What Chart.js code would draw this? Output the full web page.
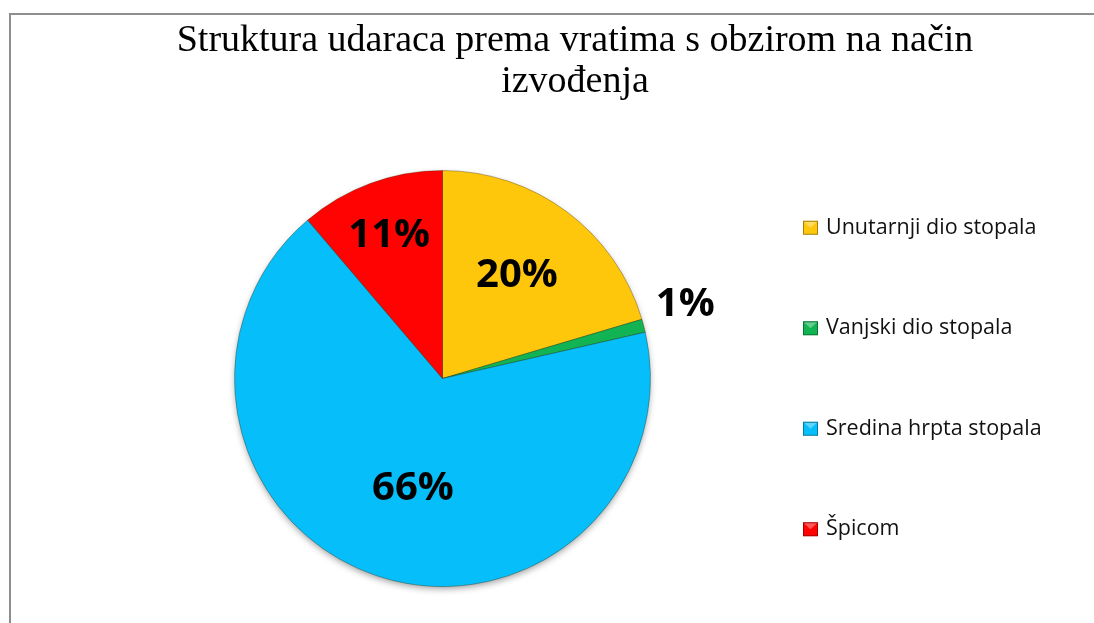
<!DOCTYPE html>
<html>
<head>
<meta charset="utf-8">
<title>Struktura udaraca</title>
<script src="https://cdn.jsdelivr.net/npm/chart.js"></script>
<style>
html, body { margin: 0; padding: 0; overflow: hidden; background: #fff; }
.frame {
    position: absolute; left: 9px; top: 13px;
    width: 2000px; height: 2000px;
    border-left: 2px solid #8e8e8e;
    border-top: 2px solid #8e8e8e;
}
.canvas_div {
    position: absolute; left: 0; top: 0;
    width: 1094px; height: 623px;
}
</style>
</head>
<body>
<div class="frame"></div>
<div class="canvas_div">
    <canvas id="myChart"></canvas>
</div>

<script>
// podaci
const titleLines = ['Struktura udaraca prema vratima s obzirom na način', 'izvođenja'];
const labels = ['Unutarnji dio stopala', 'Vanjski dio stopala', 'Sredina hrpta stopala', 'Špicom'];
const values = [20, 1, 66, 11];
const colors = ['#FFC70C', '#12B352', '#05BEFA', '#FF0303'];

// položaj natpisa (dio radijusa, pomak kuta u stupnjevima)
const labelRadius = [0.61, 1.22, 0.55, 0.735];
const labelShift = [-0.8, -2.2, -3.4, -0.2];

// sjena ispod kruga
const shadowPlugin = {
    id: 'pieShadow',
    beforeDatasetsDraw(chart) {
        const arc = chart.getDatasetMeta(0).data[0];
        if (!arc) return;
        const ctx = chart.ctx;
        ctx.save();
        ctx.shadowColor = 'rgba(0,0,0,0.4)';
        ctx.shadowBlur = 7;
        ctx.shadowOffsetY = 3;
        ctx.fillStyle = colors[2];
        ctx.beginPath();
        ctx.arc(arc.x, arc.y, arc.outerRadius - 1, 0, Math.PI * 2);
        ctx.fill();
        ctx.restore();
    }
};

// postoci na kriskama
const valueLabels = {
    id: 'valueLabels',
    afterDatasetsDraw(chart) {
        const ctx = chart.ctx;
        const meta = chart.getDatasetMeta(0);
        ctx.save();
        ctx.font = 'bold 40px "Open Sans"';
        ctx.fillStyle = '#000';
        ctx.textAlign = 'center';
        ctx.textBaseline = 'middle';
        meta.data.forEach(function(arc, i) {
            const mid = (arc.startAngle + arc.endAngle) / 2 + labelShift[i] * Math.PI / 180;
            const r = arc.outerRadius * labelRadius[i];
            ctx.fillText(values[i] + '%', arc.x + Math.cos(mid) * r, arc.y + Math.sin(mid) * r);
        });
        ctx.restore();
    }
};

// legenda desno kao zaseban okvir u rasporedu
const legendBox = {
    position: 'right',
    weight: 10,
    fullSize: false,
    options: { stackWeight: 1 },
    chart: null,
    left: 0, top: 0, right: 0, bottom: 0, width: 0, height: 0,
    isHorizontal() { return false; },
    update(maxWidth, maxHeight) {
        this.width = 265;
        this.height = maxHeight;
        return this.height;
    },
    draw() {
        const chart = this.chart;
        const ctx = chart.ctx;
        const area = chart.chartArea;
        const cy = (area.top + area.bottom) / 2;
        const step = 100.5;
        const x = this.left;
        ctx.save();
        ctx.font = '21.5px "Open Sans"';
        ctx.textBaseline = 'middle';
        ctx.textAlign = 'left';
        labels.forEach(function(text, i) {
            const y = cy + (i - (labels.length - 1) / 2) * step;
            const w = 15, h = 14;
            const top = y - h / 2;
            ctx.fillStyle = colors[i];
            ctx.fillRect(x, top, w, h);
            // svjetliji gornji trokut
            ctx.fillStyle = 'rgba(255,255,255,0.35)';
            ctx.beginPath();
            ctx.moveTo(x + 1, top + 1);
            ctx.lineTo(x + w - 1, top + 1);
            ctx.lineTo(x + w / 2, top + h / 2);
            ctx.closePath();
            ctx.fill();
            ctx.strokeStyle = 'rgba(0,0,0,0.35)';
            ctx.lineWidth = 1;
            ctx.strokeRect(x + 0.5, top + 0.5, w - 1, h - 1);
            ctx.fillStyle = '#111';
            ctx.fillText(text, x + 23, y);
        });
        ctx.restore();
    }
};

const legendPlugin = {
    id: 'sideLegend',
    beforeInit(chart) {
        legendBox.chart = chart;
        Chart.layouts.addBox(chart, legendBox);
    }
};

const config = {
    type: 'pie',
    data: {
        labels: labels,
        datasets: [{
            data: values,
            backgroundColor: colors,
            borderColor: 'rgba(60,40,0,0.35)',
            borderWidth: 1
        }]
    },
    options: {
        responsive: true,
        maintainAspectRatio: false,
        animation: false,
        layout: {
            padding: { left: 82, right: 26, top: 21, bottom: 36 }
        },
        plugins: {
            legend: { display: false },
            tooltip: { enabled: false },
            title: {
                display: true,
                text: titleLines,
                color: '#000',
                font: { family: '"Liberation Serif", "Times New Roman", serif', size: 38, weight: 'normal', lineHeight: 41 / 38 },
                padding: { top: 0, bottom: 67 }
            }
        }
    },
    plugins: [legendPlugin, shadowPlugin, valueLabels]
};

const myChart = new Chart(document.getElementById('myChart'), config);
</script>
</body>
</html>
